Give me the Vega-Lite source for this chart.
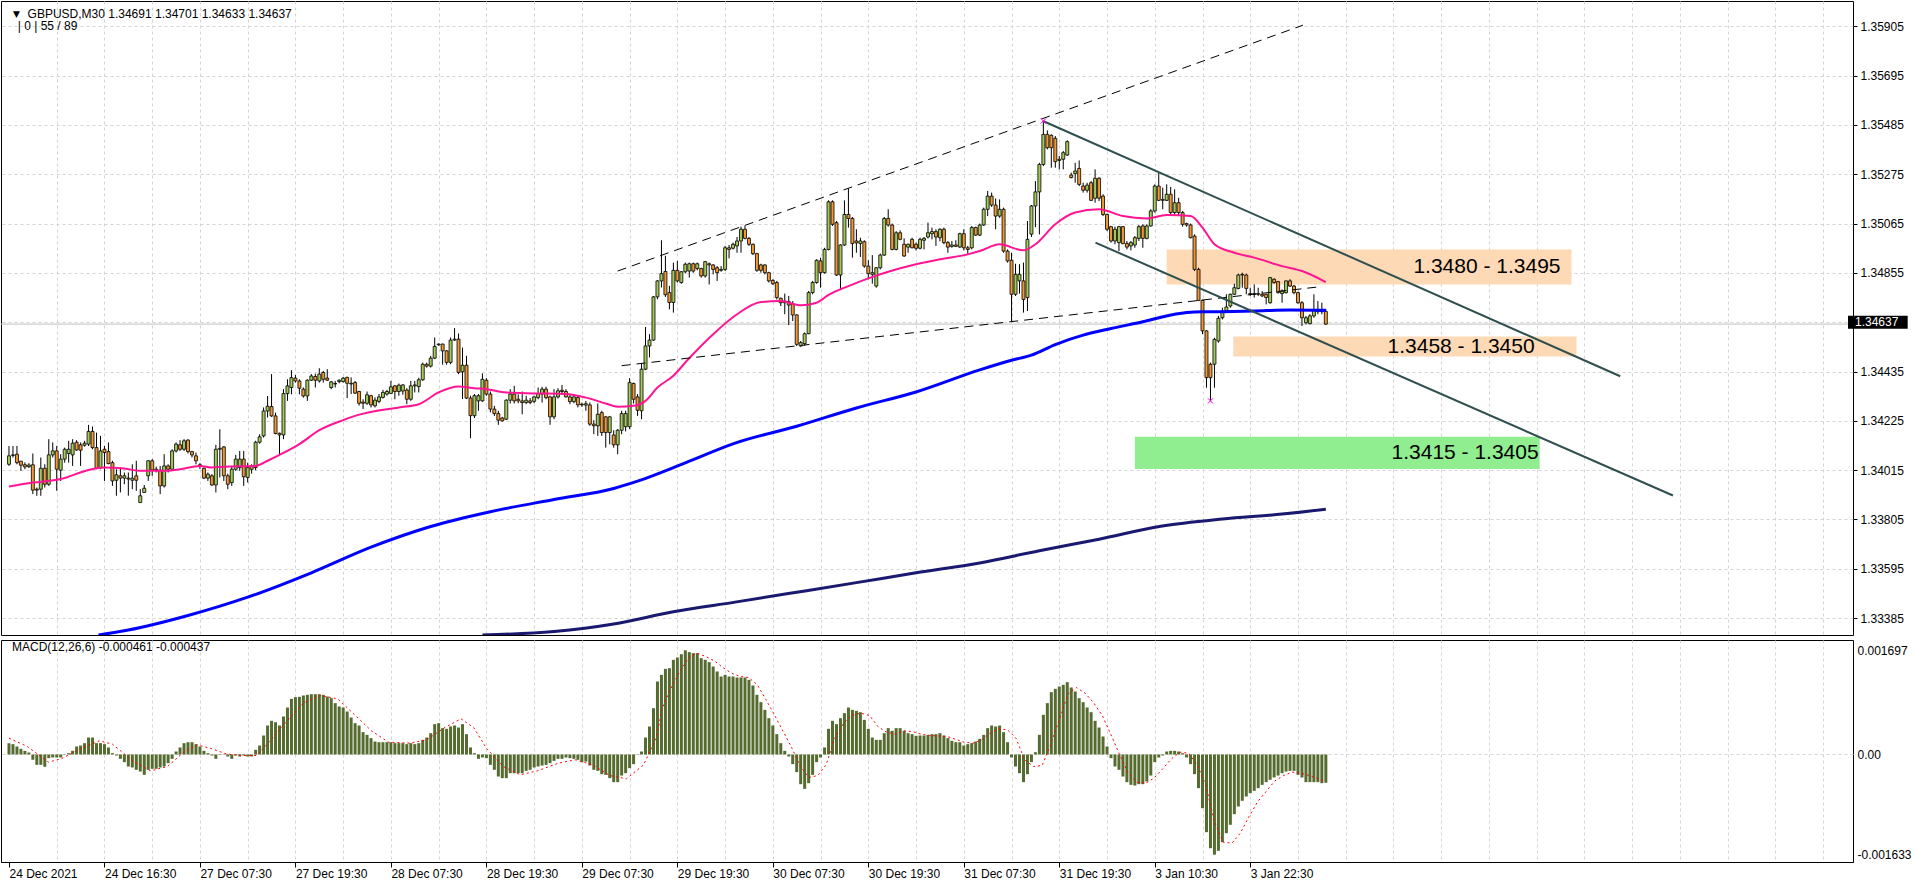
{
"$schema":"https://vega.github.io/schema/vega-lite/v6.json",
"background":"white",
"padding":0,
"spacing":3,
"config":{"view":{"stroke":"#000000","strokeWidth":1},"axis":{"labelFont":"Liberation Sans","labelFontSize":12,"labelColor":"#000000","tickColor":"#000000","domainColor":"#000000","gridColor":"#D4D4D4","gridDash":[3,3],"gridWidth":1},"text":{"font":"Liberation Sans"}},
"datasets":{
"bars":[
{"i":0,"o":1.34040,"h":1.34118,"l":1.34033,"c":1.34076,"m":0.000184},
{"i":1,"o":1.34078,"h":1.34118,"l":1.34069,"c":1.34080,"m":0.000168},
{"i":2,"o":1.34083,"h":1.34118,"l":1.34040,"c":1.34047,"m":0.000130},
{"i":3,"o":1.34053,"h":1.34055,"l":1.34012,"c":1.34036,"m":0.000092},
{"i":4,"o":1.34038,"h":1.34048,"l":1.34019,"c":1.34029,"m":0.000059},
{"i":5,"o":1.34030,"h":1.34045,"l":1.34024,"c":1.34037,"m":0.000032},
{"i":6,"o":1.34038,"h":1.34086,"l":1.33913,"c":1.33930,"m":-0.000087},
{"i":7,"o":1.33934,"h":1.33941,"l":1.33906,"c":1.33930,"m":-0.000169},
{"i":8,"o":1.33934,"h":1.34069,"l":1.33906,"c":1.34023,"m":-0.000169},
{"i":9,"o":1.34023,"h":1.34040,"l":1.33941,"c":1.33955,"m":-0.000201},
{"i":10,"o":1.33955,"h":1.34147,"l":1.33948,"c":1.34080,"m":-0.000060},
{"i":11,"o":1.34080,"h":1.34133,"l":1.34069,"c":1.34097,"m":-0.000049},
{"i":12,"o":1.34097,"h":1.34118,"l":1.33927,"c":1.34019,"m":-0.000049},
{"i":13,"o":1.34015,"h":1.34083,"l":1.33969,"c":1.34062,"m":-0.000049},
{"i":14,"o":1.34062,"h":1.34111,"l":1.34047,"c":1.34104,"m":0.000005},
{"i":15,"o":1.34086,"h":1.34140,"l":1.34047,"c":1.34104,"m":0.000021},
{"i":16,"o":1.34080,"h":1.34147,"l":1.34033,"c":1.34130,"m":0.000059},
{"i":17,"o":1.34134,"h":1.34143,"l":1.34097,"c":1.34101,"m":0.000130},
{"i":18,"o":1.34123,"h":1.34133,"l":1.34033,"c":1.34100,"m":0.000146},
{"i":19,"o":1.34121,"h":1.34140,"l":1.34115,"c":1.34130,"m":0.000184},
{"i":20,"o":1.34126,"h":1.34208,"l":1.34118,"c":1.34180,"m":0.000276},
{"i":21,"o":1.34180,"h":1.34201,"l":1.34104,"c":1.34111,"m":0.000276},
{"i":22,"o":1.34111,"h":1.34175,"l":1.34019,"c":1.34023,"m":0.000184},
{"i":23,"o":1.34026,"h":1.34161,"l":1.34019,"c":1.34097,"m":0.000184},
{"i":24,"o":1.34104,"h":1.34118,"l":1.33969,"c":1.34090,"m":0.000168},
{"i":25,"o":1.34094,"h":1.34133,"l":1.34040,"c":1.34043,"m":0.000114},
{"i":26,"o":1.34047,"h":1.34055,"l":1.33948,"c":1.33969,"m":0.000021},
{"i":27,"o":1.33972,"h":1.34019,"l":1.33906,"c":1.33995,"m":-0.000017},
{"i":28,"o":1.33991,"h":1.34026,"l":1.33920,"c":1.33981,"m":-0.000071},
{"i":29,"o":1.33981,"h":1.34005,"l":1.33955,"c":1.33991,"m":-0.000125},
{"i":30,"o":1.33981,"h":1.34005,"l":1.33906,"c":1.33977,"m":-0.000196},
{"i":31,"o":1.33972,"h":1.34040,"l":1.33934,"c":1.33981,"m":-0.000212},
{"i":32,"o":1.33991,"h":1.34055,"l":1.33927,"c":1.33972,"m":-0.000250},
{"i":33,"o":1.33877,"h":1.33934,"l":1.33877,"c":1.33906,"m":-0.000278},
{"i":34,"o":1.33920,"h":1.33952,"l":1.33920,"c":1.33938,"m":-0.000332},
{"i":35,"o":1.33991,"h":1.34057,"l":1.33969,"c":1.34055,"m":-0.000250},
{"i":36,"o":1.34055,"h":1.34062,"l":1.33991,"c":1.34016,"m":-0.000234},
{"i":37,"o":1.34019,"h":1.34030,"l":1.34005,"c":1.34015,"m":-0.000234},
{"i":38,"o":1.34015,"h":1.34033,"l":1.33913,"c":1.33948,"m":-0.000212},
{"i":39,"o":1.33948,"h":1.34083,"l":1.33941,"c":1.34033,"m":-0.000196},
{"i":40,"o":1.34033,"h":1.34040,"l":1.34005,"c":1.34019,"m":-0.000142},
{"i":41,"o":1.34019,"h":1.34104,"l":1.34012,"c":1.34097,"m":-0.000071},
{"i":42,"o":1.34097,"h":1.34133,"l":1.34090,"c":1.34126,"m":0.000048},
{"i":43,"o":1.34123,"h":1.34143,"l":1.34097,"c":1.34104,"m":0.000114},
{"i":44,"o":1.34104,"h":1.34147,"l":1.34097,"c":1.34140,"m":0.000184},
{"i":45,"o":1.34143,"h":1.34147,"l":1.34086,"c":1.34094,"m":0.000200},
{"i":46,"o":1.34094,"h":1.34097,"l":1.34069,"c":1.34080,"m":0.000200},
{"i":47,"o":1.34076,"h":1.34090,"l":1.34040,"c":1.34055,"m":0.000168},
{"i":48,"o":1.34038,"h":1.34045,"l":1.34020,"c":1.34033,"m":0.000130},
{"i":49,"o":1.34023,"h":1.34026,"l":1.33977,"c":1.33981,"m":0.000059},
{"i":50,"o":1.33981,"h":1.34005,"l":1.33969,"c":1.33998,"m":0.000021},
{"i":51,"o":1.33991,"h":1.33998,"l":1.33948,"c":1.33952,"m":-0.000017},
{"i":52,"o":1.33952,"h":1.34123,"l":1.33920,"c":1.34104,"m":-0.000071},
{"i":53,"o":1.34108,"h":1.34189,"l":1.33984,"c":1.34104,"m":-0.000006},
{"i":54,"o":1.34114,"h":1.34118,"l":1.33969,"c":1.33991,"m":-0.000006},
{"i":55,"o":1.33991,"h":1.34000,"l":1.33934,"c":1.33955,"m":-0.000033},
{"i":56,"o":1.33962,"h":1.34030,"l":1.33948,"c":1.34019,"m":-0.000071},
{"i":57,"o":1.34019,"h":1.34080,"l":1.34012,"c":1.34062,"m":-0.000017},
{"i":58,"o":1.34026,"h":1.34097,"l":1.34012,"c":1.34062,"m":-0.000033},
{"i":59,"o":1.34062,"h":1.34097,"l":1.33948,"c":1.33987,"m":-0.000017},
{"i":60,"o":1.33984,"h":1.34047,"l":1.33962,"c":1.34026,"m":-0.000033},
{"i":61,"o":1.34033,"h":1.34040,"l":1.34000,"c":1.34019,"m":-0.000033},
{"i":62,"o":1.34026,"h":1.34140,"l":1.34015,"c":1.34134,"m":0.000075},
{"i":63,"o":1.34134,"h":1.34168,"l":1.34128,"c":1.34157,"m":0.000146},
{"i":64,"o":1.34161,"h":1.34282,"l":1.34154,"c":1.34267,"m":0.000309},
{"i":65,"o":1.34267,"h":1.34331,"l":1.34239,"c":1.34287,"m":0.000472},
{"i":66,"o":1.34286,"h":1.34424,"l":1.34242,"c":1.34246,"m":0.000548},
{"i":67,"o":1.34246,"h":1.34260,"l":1.34168,"c":1.34171,"m":0.000526},
{"i":68,"o":1.34172,"h":1.34175,"l":1.34083,"c":1.34165,"m":0.000472},
{"i":69,"o":1.34165,"h":1.34360,"l":1.34147,"c":1.34341,"m":0.000619},
{"i":70,"o":1.34341,"h":1.34402,"l":1.34310,"c":1.34374,"m":0.000765},
{"i":71,"o":1.34367,"h":1.34441,"l":1.34338,"c":1.34409,"m":0.000906},
{"i":72,"o":1.34407,"h":1.34420,"l":1.34388,"c":1.34395,"m":0.000934},
{"i":73,"o":1.34395,"h":1.34402,"l":1.34338,"c":1.34364,"m":0.000939},
{"i":74,"o":1.34360,"h":1.34367,"l":1.34324,"c":1.34331,"m":0.000961},
{"i":75,"o":1.34331,"h":1.34402,"l":1.34310,"c":1.34398,"m":0.000972},
{"i":76,"o":1.34398,"h":1.34424,"l":1.34395,"c":1.34416,"m":0.000982},
{"i":77,"o":1.34414,"h":1.34426,"l":1.34367,"c":1.34398,"m":0.000982},
{"i":78,"o":1.34395,"h":1.34449,"l":1.34388,"c":1.34424,"m":0.000982},
{"i":79,"o":1.34431,"h":1.34438,"l":1.34388,"c":1.34402,"m":0.000972},
{"i":80,"o":1.34407,"h":1.34445,"l":1.34395,"c":1.34398,"m":0.000944},
{"i":81,"o":1.34367,"h":1.34395,"l":1.34360,"c":1.34391,"m":0.000917},
{"i":82,"o":1.34384,"h":1.34395,"l":1.34367,"c":1.34382,"m":0.000836},
{"i":83,"o":1.34392,"h":1.34402,"l":1.34385,"c":1.34398,"m":0.000782},
{"i":84,"o":1.34392,"h":1.34412,"l":1.34388,"c":1.34407,"m":0.000765},
{"i":85,"o":1.34410,"h":1.34413,"l":1.34322,"c":1.34385,"m":0.000700},
{"i":86,"o":1.34382,"h":1.34410,"l":1.34339,"c":1.34385,"m":0.000602},
{"i":87,"o":1.34388,"h":1.34395,"l":1.34339,"c":1.34343,"m":0.000510},
{"i":88,"o":1.34350,"h":1.34353,"l":1.34290,"c":1.34300,"m":0.000472},
{"i":89,"o":1.34305,"h":1.34317,"l":1.34275,"c":1.34300,"m":0.000363},
{"i":90,"o":1.34300,"h":1.34350,"l":1.34293,"c":1.34336,"m":0.000320},
{"i":91,"o":1.34332,"h":1.34336,"l":1.34282,"c":1.34293,"m":0.000266},
{"i":92,"o":1.34289,"h":1.34325,"l":1.34282,"c":1.34313,"m":0.000211},
{"i":93,"o":1.34308,"h":1.34339,"l":1.34300,"c":1.34327,"m":0.000200},
{"i":94,"o":1.34325,"h":1.34357,"l":1.34320,"c":1.34346,"m":0.000200},
{"i":95,"o":1.34339,"h":1.34357,"l":1.34332,"c":1.34350,"m":0.000200},
{"i":96,"o":1.34342,"h":1.34395,"l":1.34339,"c":1.34370,"m":0.000200},
{"i":97,"o":1.34374,"h":1.34378,"l":1.34317,"c":1.34350,"m":0.000184},
{"i":98,"o":1.34350,"h":1.34384,"l":1.34332,"c":1.34377,"m":0.000184},
{"i":99,"o":1.34352,"h":1.34381,"l":1.34336,"c":1.34378,"m":0.000184},
{"i":100,"o":1.34356,"h":1.34364,"l":1.34296,"c":1.34317,"m":0.000168},
{"i":101,"o":1.34317,"h":1.34395,"l":1.34310,"c":1.34374,"m":0.000184},
{"i":102,"o":1.34374,"h":1.34395,"l":1.34346,"c":1.34378,"m":0.000168},
{"i":103,"o":1.34371,"h":1.34409,"l":1.34346,"c":1.34400,"m":0.000184},
{"i":104,"o":1.34400,"h":1.34473,"l":1.34395,"c":1.34466,"m":0.000238},
{"i":105,"o":1.34466,"h":1.34473,"l":1.34452,"c":1.34458,"m":0.000276},
{"i":106,"o":1.34458,"h":1.34502,"l":1.34452,"c":1.34492,"m":0.000347},
{"i":107,"o":1.34492,"h":1.34580,"l":1.34488,"c":1.34542,"m":0.000494},
{"i":108,"o":1.34549,"h":1.34555,"l":1.34545,"c":1.34552,"m":0.000510},
{"i":109,"o":1.34552,"h":1.34554,"l":1.34464,"c":1.34523,"m":0.000429},
{"i":110,"o":1.34523,"h":1.34526,"l":1.34464,"c":1.34474,"m":0.000418},
{"i":111,"o":1.34474,"h":1.34580,"l":1.34466,"c":1.34569,"m":0.000456},
{"i":112,"o":1.34569,"h":1.34620,"l":1.34566,"c":1.34573,"m":0.000472},
{"i":113,"o":1.34573,"h":1.34597,"l":1.34424,"c":1.34431,"m":0.000439},
{"i":114,"o":1.34434,"h":1.34537,"l":1.34318,"c":1.34462,"m":0.000494},
{"i":115,"o":1.34462,"h":1.34502,"l":1.34318,"c":1.34322,"m":0.000331},
{"i":116,"o":1.34322,"h":1.34332,"l":1.34151,"c":1.34247,"m":0.000114},
{"i":117,"o":1.34247,"h":1.34339,"l":1.34237,"c":1.34332,"m":0.000021},
{"i":118,"o":1.34310,"h":1.34339,"l":1.34268,"c":1.34332,"m":-0.000071},
{"i":119,"o":1.34310,"h":1.34427,"l":1.34306,"c":1.34402,"m":-0.000049},
{"i":120,"o":1.34398,"h":1.34407,"l":1.34332,"c":1.34339,"m":-0.000060},
{"i":121,"o":1.34339,"h":1.34350,"l":1.34261,"c":1.34275,"m":-0.000169},
{"i":122,"o":1.34275,"h":1.34289,"l":1.34246,"c":1.34256,"m":-0.000250},
{"i":123,"o":1.34256,"h":1.34268,"l":1.34208,"c":1.34228,"m":-0.000359},
{"i":124,"o":1.34237,"h":1.34242,"l":1.34222,"c":1.34225,"m":-0.000386},
{"i":125,"o":1.34232,"h":1.34317,"l":1.34228,"c":1.34313,"m":-0.000386},
{"i":126,"o":1.34313,"h":1.34360,"l":1.34299,"c":1.34339,"m":-0.000305},
{"i":127,"o":1.34339,"h":1.34374,"l":1.34299,"c":1.34310,"m":-0.000305},
{"i":128,"o":1.34317,"h":1.34338,"l":1.34300,"c":1.34310,"m":-0.000305},
{"i":129,"o":1.34310,"h":1.34350,"l":1.34253,"c":1.34303,"m":-0.000305},
{"i":130,"o":1.34303,"h":1.34332,"l":1.34296,"c":1.34313,"m":-0.000267},
{"i":131,"o":1.34310,"h":1.34322,"l":1.34296,"c":1.34303,"m":-0.000250},
{"i":132,"o":1.34308,"h":1.34332,"l":1.34300,"c":1.34327,"m":-0.000212},
{"i":133,"o":1.34324,"h":1.34367,"l":1.34317,"c":1.34341,"m":-0.000196},
{"i":134,"o":1.34339,"h":1.34370,"l":1.34303,"c":1.34360,"m":-0.000180},
{"i":135,"o":1.34360,"h":1.34370,"l":1.34317,"c":1.34324,"m":-0.000169},
{"i":136,"o":1.34327,"h":1.34332,"l":1.34208,"c":1.34242,"m":-0.000142},
{"i":137,"o":1.34242,"h":1.34360,"l":1.34232,"c":1.34327,"m":-0.000104},
{"i":138,"o":1.34327,"h":1.34364,"l":1.34320,"c":1.34353,"m":-0.000071},
{"i":139,"o":1.34355,"h":1.34378,"l":1.34339,"c":1.34350,"m":-0.000071},
{"i":140,"o":1.34350,"h":1.34360,"l":1.34324,"c":1.34327,"m":-0.000049},
{"i":141,"o":1.34327,"h":1.34339,"l":1.34296,"c":1.34307,"m":-0.000060},
{"i":142,"o":1.34307,"h":1.34332,"l":1.34300,"c":1.34327,"m":-0.000071},
{"i":143,"o":1.34324,"h":1.34332,"l":1.34282,"c":1.34293,"m":-0.000087},
{"i":144,"o":1.34296,"h":1.34303,"l":1.34285,"c":1.34293,"m":-0.000125},
{"i":145,"o":1.34292,"h":1.34310,"l":1.34268,"c":1.34298,"m":-0.000115},
{"i":146,"o":1.34293,"h":1.34303,"l":1.34204,"c":1.34211,"m":-0.000180},
{"i":147,"o":1.34211,"h":1.34228,"l":1.34168,"c":1.34204,"m":-0.000250},
{"i":148,"o":1.34204,"h":1.34299,"l":1.34161,"c":1.34253,"m":-0.000267},
{"i":149,"o":1.34260,"h":1.34268,"l":1.34161,"c":1.34175,"m":-0.000321},
{"i":150,"o":1.34242,"h":1.34246,"l":1.34111,"c":1.34175,"m":-0.000332},
{"i":151,"o":1.34175,"h":1.34246,"l":1.34125,"c":1.34242,"m":-0.000386},
{"i":152,"o":1.34165,"h":1.34185,"l":1.34111,"c":1.34123,"m":-0.000451},
{"i":153,"o":1.34123,"h":1.34190,"l":1.34083,"c":1.34185,"m":-0.000451},
{"i":154,"o":1.34185,"h":1.34268,"l":1.34168,"c":1.34256,"m":-0.000343},
{"i":155,"o":1.34200,"h":1.34268,"l":1.34180,"c":1.34256,"m":-0.000305},
{"i":156,"o":1.34200,"h":1.34407,"l":1.34190,"c":1.34388,"m":-0.000223},
{"i":157,"o":1.34384,"h":1.34388,"l":1.34299,"c":1.34317,"m":-0.000158},
{"i":158,"o":1.34327,"h":1.34339,"l":1.34246,"c":1.34270,"m":-0.000006},
{"i":159,"o":1.34268,"h":1.34469,"l":1.34232,"c":1.34445,"m":0.000048},
{"i":160,"o":1.34445,"h":1.34625,"l":1.34441,"c":1.34544,"m":0.000276},
{"i":161,"o":1.34544,"h":1.34594,"l":1.34495,"c":1.34569,"m":0.000456},
{"i":162,"o":1.34569,"h":1.34757,"l":1.34566,"c":1.34753,"m":0.000754},
{"i":163,"o":1.34753,"h":1.34824,"l":1.34743,"c":1.34821,"m":0.001189},
{"i":164,"o":1.34821,"h":1.34994,"l":1.34793,"c":1.34852,"m":0.001297},
{"i":165,"o":1.34861,"h":1.34928,"l":1.34753,"c":1.34762,"m":0.001395},
{"i":166,"o":1.34771,"h":1.34800,"l":1.34700,"c":1.34729,"m":0.001406},
{"i":167,"o":1.34729,"h":1.34899,"l":1.34686,"c":1.34866,"m":0.001542},
{"i":168,"o":1.34866,"h":1.34906,"l":1.34814,"c":1.34821,"m":0.001580},
{"i":169,"o":1.34814,"h":1.34863,"l":1.34809,"c":1.34860,"m":0.001634},
{"i":170,"o":1.34860,"h":1.34899,"l":1.34853,"c":1.34892,"m":0.001697},
{"i":171,"o":1.34863,"h":1.34899,"l":1.34835,"c":1.34894,"m":0.001667},
{"i":172,"o":1.34894,"h":1.34899,"l":1.34856,"c":1.34863,"m":0.001651},
{"i":173,"o":1.34874,"h":1.34899,"l":1.34866,"c":1.34894,"m":0.001651},
{"i":174,"o":1.34874,"h":1.34877,"l":1.34835,"c":1.34842,"m":0.001569},
{"i":175,"o":1.34842,"h":1.34906,"l":1.34835,"c":1.34903,"m":0.001542},
{"i":176,"o":1.34894,"h":1.34899,"l":1.34806,"c":1.34889,"m":0.001504},
{"i":177,"o":1.34889,"h":1.34892,"l":1.34849,"c":1.34870,"m":0.001433},
{"i":178,"o":1.34877,"h":1.34884,"l":1.34821,"c":1.34856,"m":0.001352},
{"i":179,"o":1.34866,"h":1.34884,"l":1.34860,"c":1.34870,"m":0.001270},
{"i":180,"o":1.34870,"h":1.34970,"l":1.34863,"c":1.34962,"m":0.001297},
{"i":181,"o":1.34962,"h":1.34974,"l":1.34917,"c":1.34955,"m":0.001270},
{"i":182,"o":1.34960,"h":1.34984,"l":1.34955,"c":1.34977,"m":0.001270},
{"i":183,"o":1.34970,"h":1.35008,"l":1.34941,"c":1.34991,"m":0.001254},
{"i":184,"o":1.34991,"h":1.35052,"l":1.34941,"c":1.35041,"m":0.001254},
{"i":185,"o":1.35041,"h":1.35055,"l":1.34998,"c":1.35002,"m":0.001254},
{"i":186,"o":1.35002,"h":1.35008,"l":1.34970,"c":1.34977,"m":0.001216},
{"i":187,"o":1.34977,"h":1.34980,"l":1.34931,"c":1.34937,"m":0.001124},
{"i":188,"o":1.34937,"h":1.34941,"l":1.34860,"c":1.34866,"m":0.000972},
{"i":189,"o":1.34889,"h":1.34894,"l":1.34856,"c":1.34866,"m":0.000852},
{"i":190,"o":1.34889,"h":1.34892,"l":1.34849,"c":1.34856,"m":0.000727},
{"i":191,"o":1.34856,"h":1.34860,"l":1.34814,"c":1.34821,"m":0.000591},
{"i":192,"o":1.34823,"h":1.34828,"l":1.34804,"c":1.34809,"m":0.000472},
{"i":193,"o":1.34814,"h":1.34821,"l":1.34742,"c":1.34750,"m":0.000331},
{"i":194,"o":1.34747,"h":1.34750,"l":1.34714,"c":1.34728,"m":0.000184},
{"i":195,"o":1.34735,"h":1.34767,"l":1.34679,"c":1.34728,"m":0.000059},
{"i":196,"o":1.34733,"h":1.34757,"l":1.34633,"c":1.34718,"m":-0.000033},
{"i":197,"o":1.34724,"h":1.34735,"l":1.34650,"c":1.34676,"m":-0.000158},
{"i":198,"o":1.34676,"h":1.34679,"l":1.34544,"c":1.34551,"m":-0.000288},
{"i":199,"o":1.34544,"h":1.34565,"l":1.34540,"c":1.34558,"m":-0.000484},
{"i":200,"o":1.34554,"h":1.34601,"l":1.34544,"c":1.34596,"m":-0.000560},
{"i":201,"o":1.34596,"h":1.34778,"l":1.34594,"c":1.34771,"m":-0.000468},
{"i":202,"o":1.34771,"h":1.34821,"l":1.34764,"c":1.34814,"m":-0.000332},
{"i":203,"o":1.34814,"h":1.34913,"l":1.34809,"c":1.34909,"m":-0.000125},
{"i":204,"o":1.34906,"h":1.34920,"l":1.34792,"c":1.34856,"m":-0.000049},
{"i":205,"o":1.34856,"h":1.34962,"l":1.34852,"c":1.34955,"m":0.000114},
{"i":206,"o":1.34955,"h":1.35164,"l":1.34951,"c":1.35158,"m":0.000418},
{"i":207,"o":1.35158,"h":1.35164,"l":1.35055,"c":1.35062,"m":0.000548},
{"i":208,"o":1.35069,"h":1.35076,"l":1.34842,"c":1.34846,"m":0.000494},
{"i":209,"o":1.34846,"h":1.34977,"l":1.34785,"c":1.34974,"m":0.000591},
{"i":210,"o":1.34974,"h":1.35164,"l":1.34970,"c":1.35104,"m":0.000673},
{"i":211,"o":1.35104,"h":1.35215,"l":1.35048,"c":1.35087,"m":0.000765},
{"i":212,"o":1.35087,"h":1.35093,"l":1.34920,"c":1.34980,"m":0.000727},
{"i":213,"o":1.34991,"h":1.35041,"l":1.34941,"c":1.34983,"m":0.000711},
{"i":214,"o":1.34980,"h":1.35005,"l":1.34923,"c":1.34991,"m":0.000689},
{"i":215,"o":1.34988,"h":1.34994,"l":1.34877,"c":1.34884,"m":0.000564},
{"i":216,"o":1.34884,"h":1.34909,"l":1.34828,"c":1.34852,"m":0.000418},
{"i":217,"o":1.34849,"h":1.34931,"l":1.34809,"c":1.34856,"m":0.000276},
{"i":218,"o":1.34799,"h":1.34880,"l":1.34792,"c":1.34877,"m":0.000238},
{"i":219,"o":1.34877,"h":1.34937,"l":1.34870,"c":1.34931,"m":0.000238},
{"i":220,"o":1.34931,"h":1.35093,"l":1.34927,"c":1.35087,"m":0.000347},
{"i":221,"o":1.35087,"h":1.35126,"l":1.35052,"c":1.35059,"m":0.000429},
{"i":222,"o":1.35059,"h":1.35065,"l":1.34951,"c":1.34955,"m":0.000385},
{"i":223,"o":1.34955,"h":1.35033,"l":1.34951,"c":1.35026,"m":0.000429},
{"i":224,"o":1.35026,"h":1.35036,"l":1.34994,"c":1.34998,"m":0.000429},
{"i":225,"o":1.34977,"h":1.35002,"l":1.34923,"c":1.34927,"m":0.000385},
{"i":226,"o":1.34965,"h":1.34980,"l":1.34941,"c":1.34977,"m":0.000347},
{"i":227,"o":1.34998,"h":1.35005,"l":1.34960,"c":1.34962,"m":0.000331},
{"i":228,"o":1.34977,"h":1.34984,"l":1.34951,"c":1.34960,"m":0.000304},
{"i":229,"o":1.34960,"h":1.35005,"l":1.34955,"c":1.34998,"m":0.000309},
{"i":230,"o":1.34994,"h":1.35008,"l":1.34955,"c":1.35002,"m":0.000309},
{"i":231,"o":1.35008,"h":1.35069,"l":1.35002,"c":1.35026,"m":0.000320},
{"i":232,"o":1.35022,"h":1.35048,"l":1.34998,"c":1.35031,"m":0.000331},
{"i":233,"o":1.35031,"h":1.35041,"l":1.34970,"c":1.35008,"m":0.000331},
{"i":234,"o":1.35005,"h":1.35045,"l":1.34990,"c":1.35041,"m":0.000347},
{"i":235,"o":1.35041,"h":1.35048,"l":1.34977,"c":1.34984,"m":0.000309},
{"i":236,"o":1.34984,"h":1.34991,"l":1.34941,"c":1.34965,"m":0.000266},
{"i":237,"o":1.34968,"h":1.34991,"l":1.34962,"c":1.34974,"m":0.000222},
{"i":238,"o":1.34974,"h":1.34994,"l":1.34965,"c":1.34968,"m":0.000200},
{"i":239,"o":1.34965,"h":1.35026,"l":1.34962,"c":1.35022,"m":0.000200},
{"i":240,"o":1.35022,"h":1.35041,"l":1.34951,"c":1.34962,"m":0.000146},
{"i":241,"o":1.34962,"h":1.34970,"l":1.34934,"c":1.34955,"m":0.000168},
{"i":242,"o":1.34962,"h":1.35055,"l":1.34955,"c":1.35048,"m":0.000184},
{"i":243,"o":1.35048,"h":1.35052,"l":1.35012,"c":1.35016,"m":0.000211},
{"i":244,"o":1.35016,"h":1.35065,"l":1.35012,"c":1.35059,"m":0.000255},
{"i":245,"o":1.35059,"h":1.35133,"l":1.35055,"c":1.35126,"m":0.000320},
{"i":246,"o":1.35126,"h":1.35204,"l":1.35097,"c":1.35182,"m":0.000429},
{"i":247,"o":1.35182,"h":1.35197,"l":1.35136,"c":1.35144,"m":0.000472},
{"i":248,"o":1.35144,"h":1.35172,"l":1.35041,"c":1.35097,"m":0.000456},
{"i":249,"o":1.35097,"h":1.35168,"l":1.35090,"c":1.35126,"m":0.000472},
{"i":250,"o":1.35126,"h":1.35133,"l":1.34941,"c":1.34948,"m":0.000363},
{"i":251,"o":1.34948,"h":1.34955,"l":1.34899,"c":1.34906,"m":0.000200},
{"i":252,"o":1.34909,"h":1.34941,"l":1.34650,"c":1.34764,"m":-0.000049},
{"i":253,"o":1.34764,"h":1.34894,"l":1.34757,"c":1.34849,"m":-0.000196},
{"i":254,"o":1.34821,"h":1.34892,"l":1.34767,"c":1.34849,"m":-0.000305},
{"i":255,"o":1.34821,"h":1.34899,"l":1.34686,"c":1.34742,"m":-0.000451},
{"i":256,"o":1.34750,"h":1.35076,"l":1.34693,"c":1.34998,"m":-0.000321},
{"i":257,"o":1.35020,"h":1.35144,"l":1.35008,"c":1.35140,"m":-0.000125},
{"i":258,"o":1.35140,"h":1.35246,"l":1.35050,"c":1.35200,"m":0.000037},
{"i":259,"o":1.35200,"h":1.35324,"l":1.35019,"c":1.35317,"m":0.000320},
{"i":260,"o":1.35317,"h":1.35502,"l":1.35310,"c":1.35445,"m":0.000646},
{"i":261,"o":1.35445,"h":1.35462,"l":1.35381,"c":1.35388,"m":0.000836},
{"i":262,"o":1.35441,"h":1.35445,"l":1.35303,"c":1.35388,"m":0.001015},
{"i":263,"o":1.35428,"h":1.35438,"l":1.35303,"c":1.35329,"m":0.001069},
{"i":264,"o":1.35339,"h":1.35353,"l":1.35296,"c":1.35334,"m":0.001107},
{"i":265,"o":1.35339,"h":1.35374,"l":1.35296,"c":1.35367,"m":0.001135},
{"i":266,"o":1.35357,"h":1.35420,"l":1.35353,"c":1.35414,"m":0.001178},
{"i":267,"o":1.35272,"h":1.35282,"l":1.35258,"c":1.35261,"m":0.001091},
{"i":268,"o":1.35278,"h":1.35324,"l":1.35239,"c":1.35289,"m":0.001026},
{"i":269,"o":1.35300,"h":1.35334,"l":1.35225,"c":1.35232,"m":0.000917},
{"i":270,"o":1.35225,"h":1.35239,"l":1.35197,"c":1.35207,"m":0.000852},
{"i":271,"o":1.35207,"h":1.35239,"l":1.35197,"c":1.35229,"m":0.000765},
{"i":272,"o":1.35239,"h":1.35246,"l":1.35161,"c":1.35164,"m":0.000689},
{"i":273,"o":1.35173,"h":1.35296,"l":1.35154,"c":1.35258,"m":0.000548},
{"i":274,"o":1.35258,"h":1.35263,"l":1.35161,"c":1.35173,"m":0.000439},
{"i":275,"o":1.35182,"h":1.35190,"l":1.35097,"c":1.35104,"m":0.000293},
{"i":276,"o":1.35104,"h":1.35107,"l":1.35033,"c":1.35041,"m":0.000130},
{"i":277,"o":1.35052,"h":1.35055,"l":1.34984,"c":1.34991,"m":-0.000060},
{"i":278,"o":1.34991,"h":1.35052,"l":1.34977,"c":1.35041,"m":-0.000196},
{"i":279,"o":1.34984,"h":1.35055,"l":1.34948,"c":1.35052,"m":-0.000250},
{"i":280,"o":1.35052,"h":1.35055,"l":1.34977,"c":1.34980,"m":-0.000359},
{"i":281,"o":1.34980,"h":1.34991,"l":1.34955,"c":1.34965,"m":-0.000451},
{"i":282,"o":1.34970,"h":1.34991,"l":1.34951,"c":1.34984,"m":-0.000495},
{"i":283,"o":1.34974,"h":1.35012,"l":1.34962,"c":1.35005,"m":-0.000506},
{"i":284,"o":1.35002,"h":1.35059,"l":1.34991,"c":1.35052,"m":-0.000484},
{"i":285,"o":1.35055,"h":1.35062,"l":1.34962,"c":1.35002,"m":-0.000484},
{"i":286,"o":1.35002,"h":1.35062,"l":1.34998,"c":1.35055,"m":-0.000440},
{"i":287,"o":1.35055,"h":1.35126,"l":1.35052,"c":1.35119,"m":-0.000343},
{"i":288,"o":1.35119,"h":1.35232,"l":1.35112,"c":1.35225,"m":-0.000125},
{"i":289,"o":1.35225,"h":1.35282,"l":1.35161,"c":1.35164,"m":-0.000049},
{"i":290,"o":1.35164,"h":1.35218,"l":1.35126,"c":1.35168,"m":-0.000017},
{"i":291,"o":1.35164,"h":1.35232,"l":1.35161,"c":1.35190,"m":0.000048},
{"i":292,"o":1.35190,"h":1.35221,"l":1.35104,"c":1.35112,"m":0.000059},
{"i":293,"o":1.35112,"h":1.35211,"l":1.35104,"c":1.35154,"m":0.000059},
{"i":294,"o":1.35154,"h":1.35175,"l":1.35102,"c":1.35112,"m":0.000048},
{"i":295,"o":1.35112,"h":1.35119,"l":1.35052,"c":1.35062,"m":0.000021},
{"i":296,"o":1.35065,"h":1.35069,"l":1.35052,"c":1.35059,"m":-0.000049},
{"i":297,"o":1.35059,"h":1.35065,"l":1.35002,"c":1.35005,"m":-0.000158},
{"i":298,"o":1.35012,"h":1.35019,"l":1.34863,"c":1.34870,"m":-0.000321},
{"i":299,"o":1.34870,"h":1.34877,"l":1.34735,"c":1.34738,"m":-0.000549},
{"i":300,"o":1.34738,"h":1.34742,"l":1.34594,"c":1.34608,"m":-0.000875},
{"i":301,"o":1.34608,"h":1.34611,"l":1.34366,"c":1.34409,"m":-0.001266},
{"i":302,"o":1.34466,"h":1.34473,"l":1.34310,"c":1.34409,"m":-0.001527},
{"i":303,"o":1.34466,"h":1.34579,"l":1.34366,"c":1.34572,"m":-0.001633},
{"i":304,"o":1.34565,"h":1.34672,"l":1.34558,"c":1.34662,"m":-0.001570},
{"i":305,"o":1.34664,"h":1.34707,"l":1.34657,"c":1.34693,"m":-0.001429},
{"i":306,"o":1.34693,"h":1.34764,"l":1.34690,"c":1.34710,"m":-0.001282},
{"i":307,"o":1.34714,"h":1.34767,"l":1.34707,"c":1.34764,"m":-0.001146},
{"i":308,"o":1.34764,"h":1.34809,"l":1.34761,"c":1.34792,"m":-0.000973},
{"i":309,"o":1.34789,"h":1.34852,"l":1.34785,"c":1.34846,"m":-0.000848},
{"i":310,"o":1.34846,"h":1.34856,"l":1.34792,"c":1.34849,"m":-0.000755},
{"i":311,"o":1.34846,"h":1.34852,"l":1.34764,"c":1.34789,"m":-0.000685},
{"i":312,"o":1.34767,"h":1.34792,"l":1.34757,"c":1.34764,"m":-0.000631},
{"i":313,"o":1.34764,"h":1.34806,"l":1.34750,"c":1.34767,"m":-0.000593},
{"i":314,"o":1.34767,"h":1.34792,"l":1.34757,"c":1.34764,"m":-0.000549},
{"i":315,"o":1.34764,"h":1.34778,"l":1.34752,"c":1.34757,"m":-0.000495},
{"i":316,"o":1.34764,"h":1.34767,"l":1.34721,"c":1.34750,"m":-0.000451},
{"i":317,"o":1.34728,"h":1.34838,"l":1.34724,"c":1.34835,"m":-0.000413},
{"i":318,"o":1.34828,"h":1.34832,"l":1.34809,"c":1.34814,"m":-0.000375},
{"i":319,"o":1.34818,"h":1.34821,"l":1.34767,"c":1.34771,"m":-0.000343},
{"i":320,"o":1.34767,"h":1.34785,"l":1.34728,"c":1.34778,"m":-0.000305},
{"i":321,"o":1.34771,"h":1.34823,"l":1.34767,"c":1.34821,"m":-0.000278},
{"i":322,"o":1.34821,"h":1.34828,"l":1.34795,"c":1.34799,"m":-0.000267},
{"i":323,"o":1.34799,"h":1.34804,"l":1.34764,"c":1.34771,"m":-0.000267},
{"i":324,"o":1.34771,"h":1.34775,"l":1.34724,"c":1.34728,"m":-0.000332},
{"i":325,"o":1.34728,"h":1.34735,"l":1.34629,"c":1.34664,"m":-0.000375},
{"i":326,"o":1.34643,"h":1.34672,"l":1.34636,"c":1.34664,"m":-0.000451},
{"i":327,"o":1.34639,"h":1.34679,"l":1.34636,"c":1.34672,"m":-0.000451},
{"i":328,"o":1.34672,"h":1.34764,"l":1.34664,"c":1.34696,"m":-0.000451},
{"i":329,"o":1.34696,"h":1.34735,"l":1.34679,"c":1.34690,"m":-0.000451},
{"i":330,"o":1.34690,"h":1.34728,"l":1.34679,"c":1.34691,"m":-0.000468},
{"i":331,"o":1.34691,"h":1.34701,"l":1.34633,"c":1.34637,"m":-0.000461}
],
"ma_fast":[
{"i":0,"p":1.33945},{"i":6,"p":1.33962},{"i":13,"p":1.33977},{"i":20,"p":1.34016},{"i":24,"p":1.34026},{"i":29,"p":1.34022},{"i":33,"p":1.34012},{"i":39,"p":1.34012},{"i":43,"p":1.34019},{"i":48,"p":1.34033},{"i":51,"p":1.34026},{"i":54,"p":1.34030},{"i":62,"p":1.34033},{"i":65,"p":1.34055},{"i":68,"p":1.34080},{"i":73,"p":1.34126},{"i":78,"p":1.34185},{"i":84,"p":1.34228},{"i":87,"p":1.34246},{"i":98,"p":1.34282},{"i":103,"p":1.34296},{"i":108,"p":1.34346},{"i":113,"p":1.34371},{"i":117,"p":1.34364},{"i":120,"p":1.34360},{"i":125,"p":1.34346},{"i":132,"p":1.34342},{"i":140,"p":1.34339},{"i":145,"p":1.34324},{"i":150,"p":1.34299},{"i":153,"p":1.34285},{"i":157,"p":1.34289},{"i":160,"p":1.34310},{"i":163,"p":1.34367},{"i":167,"p":1.34417},{"i":170.5,"p":1.34483},{"i":177,"p":1.34594},{"i":183,"p":1.34679},{"i":189,"p":1.34731},{"i":194,"p":1.34735},{"i":199,"p":1.34717},{"i":203,"p":1.34728},{"i":206,"p":1.34761},{"i":211,"p":1.34799},{"i":216,"p":1.34832},{"i":221,"p":1.34860},{"i":228,"p":1.34892},{"i":234,"p":1.34913},{"i":241,"p":1.34934},{"i":244,"p":1.34948},{"i":249,"p":1.34977},{"i":255,"p":1.34951},{"i":258,"p":1.34977},{"i":263,"p":1.35062},{"i":268,"p":1.35112},{"i":274,"p":1.35126},{"i":280,"p":1.35097},{"i":286,"p":1.35087},{"i":291,"p":1.35102},{"i":297,"p":1.35097},{"i":300,"p":1.35048},{"i":303,"p":1.34977},{"i":308,"p":1.34941},{"i":313,"p":1.34920},{"i":320,"p":1.34884},{"i":325,"p":1.34863},{"i":331,"p":1.34816}
],
"ma_mid":[
{"i":22.5,"p":1.33313},{"i":30,"p":1.33334},{"i":45,"p":1.33396},{"i":60,"p":1.33474},{"i":76,"p":1.33578},{"i":91,"p":1.33687},{"i":106,"p":1.33775},{"i":121,"p":1.33838},{"i":137,"p":1.33890},{"i":152,"p":1.33937},{"i":158,"p":1.33968},{"i":170,"p":1.34046},{"i":182.5,"p":1.34130},{"i":198,"p":1.34202},{"i":213,"p":1.34280},{"i":228,"p":1.34348},{"i":244,"p":1.34442},{"i":252,"p":1.34483},{"i":257,"p":1.34505},{"i":263,"p":1.34550},{"i":270,"p":1.34590},{"i":277,"p":1.34618},{"i":285,"p":1.34647},{"i":293,"p":1.34679},{"i":298,"p":1.34689},{"i":305,"p":1.34690},{"i":313,"p":1.34693},{"i":322,"p":1.34697},{"i":331,"p":1.34696}
],
"ma_slow":[
{"i":119,"p":1.33313},{"i":137,"p":1.33328},{"i":152,"p":1.33360},{"i":167,"p":1.33412},{"i":182.5,"p":1.33453},{"i":198,"p":1.33495},{"i":213,"p":1.33536},{"i":228,"p":1.33578},{"i":244,"p":1.33620},{"i":259,"p":1.33672},{"i":274,"p":1.33721},{"i":289.5,"p":1.33776},{"i":305,"p":1.33807},{"i":320,"p":1.33828},{"i":331,"p":1.33849}
],
"signal":[
{"i":0,"s":0.000266},{"i":4.6,"s":0.000130},{"i":9.9,"s":-0.000125},{"i":13.1,"s":-0.000071},{"i":17.4,"s":0.000075},{"i":22.75,"s":0.000222},{"i":26,"s":0.000168},{"i":31.3,"s":-0.000115},{"i":35.6,"s":-0.000267},{"i":39.85,"s":-0.000196},{"i":44.1,"s":0.000048},{"i":47.3,"s":0.000157},{"i":50.5,"s":0.000103},{"i":54.8,"s":0.000005},{"i":59.1,"s":-0.000017},{"i":62.3,"s":-0.000017},{"i":65.5,"s":0.000211},{"i":69.8,"s":0.000537},{"i":74,"s":0.000836},{"i":78.3,"s":0.000961},{"i":82.6,"s":0.000906},{"i":86.9,"s":0.000646},{"i":91.1,"s":0.000385},{"i":95.4,"s":0.000200},{"i":100.7,"s":0.000184},{"i":105,"s":0.000238},{"i":109.3,"s":0.000429},{"i":113.6,"s":0.000581},{"i":116.8,"s":0.000439},{"i":120,"s":0.000103},{"i":124.25,"s":-0.000196},{"i":128.5,"s":-0.000332},{"i":132.8,"s":-0.000267},{"i":138.1,"s":-0.000142},{"i":142.4,"s":-0.000087},{"i":146.7,"s":-0.000169},{"i":151,"s":-0.000343},{"i":155.2,"s":-0.000397},{"i":159.5,"s":-0.000169},{"i":162.7,"s":0.000266},{"i":164.2,"s":0.000754},{"i":166.4,"s":0.001080},{"i":168.6,"s":0.001352},{"i":170.8,"s":0.001569},{"i":172.9,"s":0.001651},{"i":175.1,"s":0.001597},{"i":177.3,"s":0.001526},{"i":179.4,"s":0.001417},{"i":181.6,"s":0.001325},{"i":183.8,"s":0.001270},{"i":185.9,"s":0.001254},{"i":188.1,"s":0.001135},{"i":190.3,"s":0.000890},{"i":192.4,"s":0.000646},{"i":194.6,"s":0.000374},{"i":196.8,"s":0.000103},{"i":198.9,"s":-0.000196},{"i":201.1,"s":-0.000375},{"i":203.3,"s":-0.000343},{"i":205.4,"s":-0.000169},{"i":207.6,"s":0.000266},{"i":209.8,"s":0.000510},{"i":211.9,"s":0.000635},{"i":214.1,"s":0.000673},{"i":216.3,"s":0.000635},{"i":218.4,"s":0.000456},{"i":220.6,"s":0.000363},{"i":222.8,"s":0.000331},{"i":225,"s":0.000385},{"i":227.1,"s":0.000374},{"i":229.3,"s":0.000331},{"i":231.4,"s":0.000309},{"i":235.8,"s":0.000293},{"i":240.1,"s":0.000200},{"i":242.3,"s":0.000184},{"i":244.5,"s":0.000238},{"i":246.6,"s":0.000347},{"i":248.8,"s":0.000418},{"i":251,"s":0.000401},{"i":253.1,"s":0.000266},{"i":255.3,"s":-0.000087},{"i":257.5,"s":-0.000196},{"i":259.7,"s":-0.000180},{"i":261.8,"s":0.000157},{"i":264,"s":0.000564},{"i":266.2,"s":0.000982},{"i":268.3,"s":0.001091},{"i":270.5,"s":0.000999},{"i":272.7,"s":0.000836},{"i":274.8,"s":0.000635},{"i":277,"s":0.000320},{"i":279.2,"s":-0.000006},{"i":281.3,"s":-0.000305},{"i":283.5,"s":-0.000451},{"i":285.7,"s":-0.000468},{"i":287.8,"s":-0.000386},{"i":290,"s":-0.000234},{"i":292.2,"s":-0.000071},{"i":294.3,"s":0.000037},{"i":296.5,"s":0.000021},{"i":298.7,"s":-0.000169},{"i":300.8,"s":-0.000495},{"i":303,"s":-0.001093},{"i":305.2,"s":-0.001429},{"i":307.4,"s":-0.001446},{"i":309.5,"s":-0.001282},{"i":311.7,"s":-0.001011},{"i":313.9,"s":-0.000766},{"i":316,"s":-0.000603},{"i":318.2,"s":-0.000430},{"i":320.4,"s":-0.000343},{"i":322.5,"s":-0.000288},{"i":324.7,"s":-0.000305},{"i":326.9,"s":-0.000343},{"i":329,"s":-0.000397},{"i":331,"s":-0.000437}
],
"dashlines":[{"id":"channel top","i":153,"p":1.34863},{"id":"channel top","i":325.25,"p":1.35910},{"id":"flag base","i":154,"p":1.34460},{"id":"flag base","i":330,"p":1.34797}],
"solidlines":[{"id":"down upper","i":259.9,"p":1.35502},{"id":"down upper","i":405,"p":1.34415},{"id":"down lower","i":273.1,"p":1.34984},{"id":"down lower","i":418.25,"p":1.33907}],
"zones":[{"zone":"upper","i":291,"i2":392.75,"p":1.34806,"p2":1.34955},{"zone":"middle","i":307.75,"i2":394,"p":1.34499,"p2":1.34584},{"zone":"target","i":283,"i2":384.75,"p":1.34020,"p2":1.34157}],
"zonelabels":[{"i":371.5,"p":1.34880,"t":"1.3480 - 1.3495"},{"i":365,"p":1.34538,"t":"1.3458 - 1.3450"},{"i":366,"p":1.34088,"t":"1.3415 - 1.3405"}],
"extremes":[{"i":260,"p":1.35502},{"i":302,"p":1.34310}]
},
"vconcat":[
{
"width":1852,"height":634,
"layer":[
{"data":{"name":"zones"},"mark":{"type":"rect"},
"encoding":{
"x":{"field":"i","type":"quantitative","scale":{"domain":[-0.75,462.25],"nice":false,"zero":false},"axis":{"values":[12,24,36,48,60,72,84,96,108,120,132,144,156,168,180,192,204,216,228,240,252,264,276,288,300,312,324,336,348,360,372,384,396,408,420,432,444,456],"grid":true,"labels":false,"ticks":false,"domain":false,"title":null}},
"x2":{"field":"i2"},
"y":{"field":"p","type":"quantitative","scale":{"domain":[1.33313,1.36013],"nice":false,"zero":false},"axis":{"orient":"right","values":[1.33385,1.33595,1.33805,1.34015,1.34225,1.34435,1.34645,1.34855,1.35065,1.35275,1.35485,1.35695,1.35905],"labelExpr":"abs(datum.value-1.34645)<0.00001 ? '' : format(datum.value,'.5f')","grid":true,"tickSize":4,"labelPadding":3,"domain":false,"title":null}},
"y2":{"field":"p2"},
"color":{"field":"zone","type":"nominal","scale":{"domain":["upper","middle","target"],"range":["#FDD9B5","#FDD9B5","#90EE90"]},"legend":null}}},
{"data":{"values":[{"p":1.34637}]},"mark":{"type":"rule","color":"#C0C0C0","strokeWidth":1},
"encoding":{"y":{"field":"p","type":"quantitative","scale":{"domain":[1.33313,1.36013],"nice":false,"zero":false}}}},
{"data":{"name":"bars"},"mark":{"type":"rule","color":"#000000","strokeWidth":1},
"encoding":{"x":{"field":"i","type":"quantitative","scale":{"domain":[-0.75,462.25],"nice":false,"zero":false}},
"y":{"field":"l","type":"quantitative","scale":{"domain":[1.33313,1.36013],"nice":false,"zero":false}},"y2":{"field":"h"}}},
{"data":{"name":"bars"},"mark":{"type":"bar","size":3,"stroke":"#000000","strokeWidth":0.8},
"encoding":{"x":{"field":"i","type":"quantitative","scale":{"domain":[-0.75,462.25],"nice":false,"zero":false}},
"y":{"field":"o","type":"quantitative","scale":{"domain":[1.33313,1.36013],"nice":false,"zero":false}},"y2":{"field":"c"},
"fill":{"condition":{"test":"datum.c >= datum.o","value":"#A4C95B"},"value":"#EF9836"}}},
{"data":{"name":"ma_fast"},"mark":{"type":"line","color":"#FF1493","strokeWidth":2,"interpolate":"monotone","clip":true},
"encoding":{"x":{"field":"i","type":"quantitative","scale":{"domain":[-0.75,462.25],"nice":false,"zero":false}},
"y":{"field":"p","type":"quantitative","scale":{"domain":[1.33313,1.36013],"nice":false,"zero":false}}}},
{"data":{"name":"ma_mid"},"mark":{"type":"line","color":"#0000FF","strokeWidth":3,"interpolate":"monotone","clip":true},
"encoding":{"x":{"field":"i","type":"quantitative","scale":{"domain":[-0.75,462.25],"nice":false,"zero":false}},
"y":{"field":"p","type":"quantitative","scale":{"domain":[1.33313,1.36013],"nice":false,"zero":false}}}},
{"data":{"name":"ma_slow"},"mark":{"type":"line","color":"#191970","strokeWidth":3,"interpolate":"monotone","clip":true},
"encoding":{"x":{"field":"i","type":"quantitative","scale":{"domain":[-0.75,462.25],"nice":false,"zero":false}},
"y":{"field":"p","type":"quantitative","scale":{"domain":[1.33313,1.36013],"nice":false,"zero":false}}}},
{"data":{"name":"dashlines"},"mark":{"type":"line","color":"#000000","strokeWidth":1,"strokeDash":[9,6]},
"encoding":{"x":{"field":"i","type":"quantitative","scale":{"domain":[-0.75,462.25],"nice":false,"zero":false}},
"y":{"field":"p","type":"quantitative","scale":{"domain":[1.33313,1.36013],"nice":false,"zero":false}},"detail":{"field":"id"}}},
{"data":{"name":"solidlines"},"mark":{"type":"line","color":"#2F4F4F","strokeWidth":2},
"encoding":{"x":{"field":"i","type":"quantitative","scale":{"domain":[-0.75,462.25],"nice":false,"zero":false}},
"y":{"field":"p","type":"quantitative","scale":{"domain":[1.33313,1.36013],"nice":false,"zero":false}},"detail":{"field":"id"}}},
{"data":{"name":"extremes"},"mark":{"type":"point","shape":"M-1,-1L1,1M1,-1L-1,1","size":28,"filled":false,"color":"#FF00FF","strokeWidth":1,"opacity":1},
"encoding":{"x":{"field":"i","type":"quantitative","scale":{"domain":[-0.75,462.25],"nice":false,"zero":false}},
"y":{"field":"p","type":"quantitative","scale":{"domain":[1.33313,1.36013],"nice":false,"zero":false}}}},
{"data":{"name":"zonelabels"},"mark":{"type":"text","fontSize":21,"font":"Liberation Sans","color":"#000000","align":"center","baseline":"middle"},
"encoding":{"x":{"field":"i","type":"quantitative","scale":{"domain":[-0.75,462.25],"nice":false,"zero":false}},
"y":{"field":"p","type":"quantitative","scale":{"domain":[1.33313,1.36013],"nice":false,"zero":false}},"text":{"field":"t"}}},
{"data":{"values":[{"i":4.67,"p":1.35942,"t":"GBPUSD,M30  1.34691 1.34701 1.34633 1.34637"},{"i":2.2,"p":1.35888,"t":"| 0 | 55 / 89"}]},"mark":{"type":"text","fontSize":12,"font":"Liberation Sans","color":"#000000","align":"left","baseline":"alphabetic"},
"encoding":{"x":{"field":"i","type":"quantitative","scale":{"domain":[-0.75,462.25],"nice":false,"zero":false}},
"y":{"field":"p","type":"quantitative","scale":{"domain":[1.33313,1.36013],"nice":false,"zero":false}},"text":{"field":"t"}}},
{"data":{"values":[{"i":1.9,"p":1.35958,"t":"▼"}]},"mark":{"type":"text","fontSize":9,"font":"DejaVu Sans","color":"#000000","align":"center","baseline":"middle"},
"encoding":{"x":{"field":"i","type":"quantitative","scale":{"domain":[-0.75,462.25],"nice":false,"zero":false}},
"y":{"field":"p","type":"quantitative","scale":{"domain":[1.33313,1.36013],"nice":false,"zero":false}},"text":{"field":"t"}}},
{"data":{"values":[{"i":462.25,"i2":477.25,"p":1.34617,"p2":1.34673}]},"mark":{"type":"rect","color":"#000000"},
"encoding":{"x":{"field":"i","type":"quantitative","scale":{"domain":[-0.75,462.25],"nice":false,"zero":false}},"x2":{"field":"i2"},
"y":{"field":"p","type":"quantitative","scale":{"domain":[1.33313,1.36013],"nice":false,"zero":false}},"y2":{"field":"p2"}}},
{"data":{"values":[{"i":464,"p":1.34645,"t":"1.34637"}]},"mark":{"type":"text","fontSize":12,"font":"Liberation Sans","color":"#FFFFFF","align":"left","baseline":"middle"},
"encoding":{"x":{"field":"i","type":"quantitative","scale":{"domain":[-0.75,462.25],"nice":false,"zero":false}},
"y":{"field":"p","type":"quantitative","scale":{"domain":[1.33313,1.36013],"nice":false,"zero":false}},"text":{"field":"t"}}}
]
},
{
"width":1852,"height":222,
"layer":[
{"data":{"name":"bars"},"mark":{"type":"bar","size":3,"color":"#556B2F"},
"encoding":{
"x":{"field":"i","type":"quantitative","scale":{"domain":[-0.75,462.25],"nice":false,"zero":false},"axis":{"values":[0,12,24,36,48,60,72,84,96,108,120,132,144,156,168,180,192,204,216,228,240,252,264,276,288,300,312,324,336,348,360,372,384,396,408,420,432,444,456],"grid":true,"gridOpacity":{"condition":{"test":"datum.value === 0","value":0},"value":1},"domain":true,"tickSize":5,"tickOpacity":{"condition":{"test":"datum.value % 24 === 0 && datum.value <= 312","value":1},"value":0},"labelExpr":"datum.value % 24 === 0 && datum.value <= 312 ? ['24 Dec 2021','24 Dec 16:30','27 Dec 07:30','27 Dec 19:30','28 Dec 07:30','28 Dec 19:30','29 Dec 07:30','29 Dec 19:30','30 Dec 07:30','30 Dec 19:30','31 Dec 07:30','31 Dec 19:30','3 Jan 10:30','3 Jan 22:30'][datum.value/24] : ''","labelAlign":"left","labelBaseline":"top","labelPadding":1,"labelFlush":false,"labelOverlap":false,"labelBound":false,"title":null}},
"y":{"field":"m","type":"quantitative","scale":{"domain":[-0.001752,0.001865],"nice":false,"zero":false},"axis":{"orient":"right","values":[0.001697,0,-0.001633],"labelExpr":"datum.value === 0 ? '0.00' : (datum.value < 0 ? '-' + format(-datum.value,'.6f') : format(datum.value,'.6f'))","grid":true,"gridOpacity":{"condition":{"test":"datum.value === 0","value":1},"value":0},"ticks":false,"labelPadding":4,"domain":false,"title":null}},
"y2":{"datum":0}}},
{"data":{"name":"signal"},"mark":{"type":"line","color":"#FF0000","strokeWidth":1,"strokeDash":[2,3]},
"encoding":{"x":{"field":"i","type":"quantitative","scale":{"domain":[-0.75,462.25],"nice":false,"zero":false}},
"y":{"field":"s","type":"quantitative","scale":{"domain":[-0.001752,0.001865],"nice":false,"zero":false}}}},
{"data":{"values":[{"i":0.75,"v":0.00168,"t":"MACD(12,26,6) -0.000461 -0.000437"}]},"mark":{"type":"text","fontSize":12,"font":"Liberation Sans","color":"#000000","align":"left","baseline":"alphabetic"},
"encoding":{"x":{"field":"i","type":"quantitative","scale":{"domain":[-0.75,462.25],"nice":false,"zero":false}},
"y":{"field":"v","type":"quantitative","scale":{"domain":[-0.001752,0.001865],"nice":false,"zero":false}},"text":{"field":"t"}}}
]
}
]
}
